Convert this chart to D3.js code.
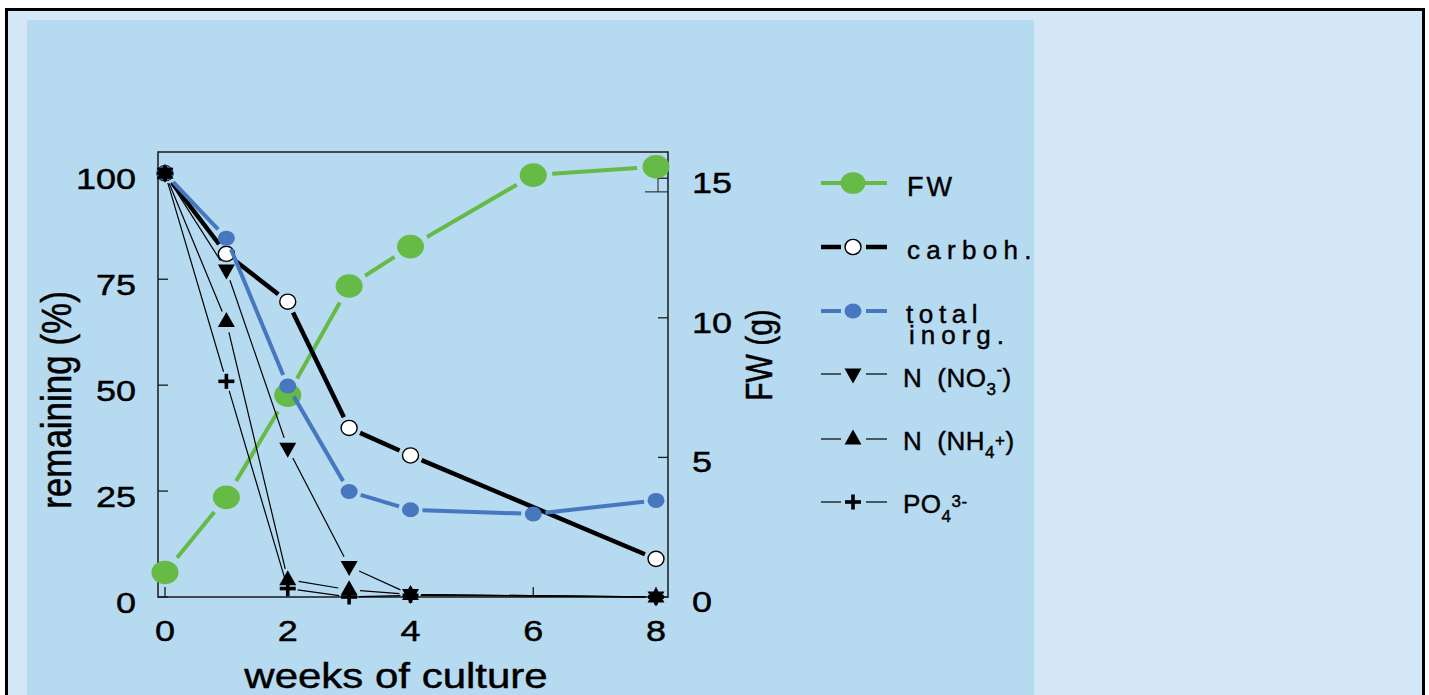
<!DOCTYPE html>
<html>
<head>
<meta charset="utf-8">
<script src="https://cdn.jsdelivr.net/npm/d3@7"></script>
<style>
  html, body { margin: 0; padding: 0; background: #fff; }
  svg { display: block; }
  text { font-family: "Liberation Sans", Arial, Helvetica, sans-serif; fill: #000; stroke: #000; stroke-width: 0.45px; }
</style>
</head>
<body>
<svg id="chart" width="1429" height="695"></svg>
<script>
// Data (weeks of culture)
var fwWeeks = [0, 1, 2, 3, 4, 6, 8];
var fwValues = [0.88, 3.57, 7.23, 11.14, 12.55, 15.11, 15.41];   // FW, g (right axis)
var fwErr = [0, 0, 0, 0, 0, 0, 0.9];
var carbWeeks = [0, 1, 2, 3, 4, 8];
var carbValues = [100, 81.0, 69.7, 39.9, 33.4, 9.0];            // % remaining
var inorgWeeks = [0, 1, 2, 3, 4, 6, 8];
var inorgValues = [100, 84.7, 49.8, 24.9, 20.6, 19.6, 22.8];
var no3Weeks = [0, 1, 2, 3, 4, 8];
var no3Values = [100, 77.2, 35.1, 7.2, 0.6, 0];
var nh4Weeks = [0, 1, 2, 3, 4, 8];
var nh4Values = [100, 65.0, 4.1, 1.7, 0.6, 0];
var po4Weeks = [0, 1, 2, 3, 4, 8];
var po4Values = [100, 50.9, 2.0, 0, 0.4, 0];

var xTicks = [0, 2, 4, 6, 8];
var leftTicks = [0, 25, 50, 75, 100];
var rightTicks = [0, 5, 10, 15];

var GREEN = "#66ba46",
    BLUE = "#4677bf",
    SX = 1.2;   // the original figure is stretched sideways

var svg = d3.select("#chart");

// frame and panels
svg.append("rect").attr("x", 6.5).attr("y", 9.5).attr("width", 1417).attr("height", 720)
    .attr("fill", "#d4e7f6").attr("stroke", "#000").attr("stroke-width", 3);
svg.append("rect").attr("x", 27).attr("y", 20).attr("width", 1007).attr("height", 700)
    .attr("fill", "#b6daf0");

var box = { left: 158, right: 668, top: 152, bottom: 597 };

var x = d3.scaleLinear().domain([0, 8]).range([165, 656]);
var yL = d3.scaleLinear().domain([0, 100]).range([597, 173.3]);
var yR = d3.scaleLinear().domain([0, 15]).range([597, 178.2]);

// stretched text helper
function stext(g, tx, ty, str, size, anchor, sx) {
    return g.append("text")
        .attr("transform", "translate(" + tx + "," + ty + ") scale(" + (sx || SX) + ",1)")
        .attr("text-anchor", anchor || "start")
        .style("font-size", size + "px")
        .text(str);
}

var g = svg.append("g");

// plot box
g.append("rect")
    .attr("x", box.left).attr("y", box.top)
    .attr("width", box.right - box.left).attr("height", box.bottom - box.top)
    .attr("fill", "none").attr("stroke", "#1a1a1a").attr("stroke-width", 1.5);

// inside ticks
g.selectAll(".tl").data(leftTicks).enter().append("line")
    .attr("x1", box.left).attr("x2", box.left + 10)
    .attr("y1", function(d) { return yL(d); }).attr("y2", function(d) { return yL(d); })
    .attr("stroke", "#1a1a1a").attr("stroke-width", 1.3);
g.selectAll(".tr").data(rightTicks).enter().append("line")
    .attr("x1", box.right - 10).attr("x2", box.right)
    .attr("y1", function(d) { return yR(d); }).attr("y2", function(d) { return yR(d); })
    .attr("stroke", "#1a1a1a").attr("stroke-width", 1.3);
g.selectAll(".tb").data(xTicks).enter().append("line")
    .attr("x1", function(d) { return x(d); }).attr("x2", function(d) { return x(d); })
    .attr("y1", box.bottom).attr("y2", box.bottom - 10)
    .attr("stroke", "#1a1a1a").attr("stroke-width", 1.3);

// tick labels
leftTicks.forEach(function(d) { stext(g, 136, yL(d) + 16, d, 30, "end"); });
rightTicks.forEach(function(d) { stext(g, 692, yR(d) + 15, d, 30, "start"); });
xTicks.forEach(function(d) { stext(g, x(d), 641, d, 30, "middle"); });

// axis titles
g.append("text")
    .attr("transform", "translate(71,400) scale(" + SX + ",1) rotate(-90)")
    .attr("text-anchor", "middle").style("font-size", "35px")
    .text("remaining (%)");
g.append("text")
    .attr("transform", "translate(772,355) scale(" + SX + ",1) rotate(-90)")
    .attr("text-anchor", "middle").style("font-size", "30px")
    .text("FW (g)");
stext(g, 396, 688, "weeks of culture", 35, "middle");

// markers
function marker(sel, type, size) {
    var s = size || 1;
    if (type === "big") {
        sel.append("ellipse").attr("rx", 13.5 * s).attr("ry", 11.8 * s).attr("fill", GREEN);
    } else if (type === "dot") {
        sel.append("ellipse").attr("rx", 8.5 * s).attr("ry", 7.5 * s).attr("fill", BLUE);
    } else if (type === "open") {
        sel.append("ellipse").attr("rx", 8 * s).attr("ry", 7.6 * s)
            .attr("fill", "#fff").attr("stroke", "#000").attr("stroke-width", 1.4);
    } else if (type === "down") {
        sel.append("path").attr("d", "M-8.5,-5.5L8.5,-5.5L0,9.5Z").attr("fill", "#000");
    } else if (type === "up") {
        sel.append("path").attr("d", "M-8.5,5.5L8.5,5.5L0,-9.5Z").attr("fill", "#000");
    } else if (type === "plus") {
        sel.append("rect").attr("x", -8).attr("y", -1.8).attr("width", 16).attr("height", 3.6).attr("fill", "#000");
        sel.append("rect").attr("x", -1.8).attr("y", -7.5).attr("width", 3.6).attr("height", 15).attr("fill", "#000");
    }
}

// line pieces with a gap round every marker
function pieces(wk, vals, ys, gap) {
    var pts = wk.map(function(w, i) { return [x(w), ys(vals[i])]; });
    var out = [];
    for (var i = 1; i < pts.length; i++) {
        var a = pts[i - 1], b = pts[i],
            dx = b[0] - a[0], dy = b[1] - a[1],
            len = Math.sqrt(dx * dx + dy * dy);
        if (len <= 2 * gap) continue;
        out.push([a[0] + dx / len * gap, a[1] + dy / len * gap, b[0] - dx / len * gap, b[1] - dy / len * gap]);
    }
    return out;
}

function series(wk, vals, ys, opts) {
    var sg = g.append("g");
    sg.selectAll("line").data(pieces(wk, vals, ys, opts.gap)).enter().append("line")
        .attr("x1", function(d) { return d[0]; }).attr("y1", function(d) { return d[1]; })
        .attr("x2", function(d) { return d[2]; }).attr("y2", function(d) { return d[3]; })
        .attr("stroke", opts.color).attr("stroke-width", opts.width);
    return sg;
}

function points(wk, vals, ys, type) {
    var pg = g.append("g");
    wk.forEach(function(w, i) {
        var m = pg.append("g").attr("transform", "translate(" + x(w) + "," + ys(vals[i]) + ")");
        marker(m, type);
    });
}

// FW
series(fwWeeks, fwValues, yR, { gap: 19, color: GREEN, width: 4 });
fwWeeks.forEach(function(w, i) {
    if (!fwErr[i]) return;
    var lo = yR(fwValues[i] - fwErr[i]);
    g.append("line").attr("x1", x(w) + 2).attr("x2", x(w) + 2).attr("y1", yR(fwValues[i])).attr("y2", lo)
        .attr("stroke", "#1a1a1a").attr("stroke-width", 1);
    g.append("line").attr("x1", x(w) - 11).attr("x2", box.right).attr("y1", lo).attr("y2", lo)
        .attr("stroke", "#1a1a1a").attr("stroke-width", 1);
});
points(fwWeeks, fwValues, yR, "big");

// carbohydrates
series(carbWeeks, carbValues, yL, { gap: 12, color: "#000", width: 4.5 });
points(carbWeeks, carbValues, yL, "open");

// total inorganic
series(inorgWeeks, inorgValues, yL, { gap: 12, color: BLUE, width: 4 });
points(inorgWeeks, inorgValues, yL, "dot");

// nutrients
series(no3Weeks, no3Values, yL, { gap: 11, color: "#000", width: 1.2 });
series(nh4Weeks, nh4Values, yL, { gap: 11, color: "#000", width: 1.2 });
series(po4Weeks, po4Values, yL, { gap: 10, color: "#000", width: 1.2 });
points(no3Weeks, no3Values, yL, "down");
points(nh4Weeks, nh4Values, yL, "up");
points(po4Weeks, po4Values, yL, "plus");

// legend
var legend = svg.append("g");
var legendRows = [
    { y: 183, type: "big", color: GREEN, width: 4, split: false },
    { y: 247, type: "open", color: "#000", width: 4.5, split: true },
    { y: 311, type: "dot", color: BLUE, width: 4, split: true },
    { y: 374, type: "down", color: "#000", width: 1.2, split: true },
    { y: 439, type: "up", color: "#000", width: 1.2, split: true },
    { y: 502, type: "plus", color: "#000", width: 1.2, split: true }
];
legendRows.forEach(function(r) {
    if (r.split) {
        legend.append("line").attr("x1", 821).attr("x2", 841).attr("y1", r.y).attr("y2", r.y)
            .attr("stroke", r.color).attr("stroke-width", r.width);
        legend.append("line").attr("x1", 866).attr("x2", 887).attr("y1", r.y).attr("y2", r.y)
            .attr("stroke", r.color).attr("stroke-width", r.width);
    } else {
        legend.append("line").attr("x1", 821).attr("x2", 887).attr("y1", r.y).attr("y2", r.y)
            .attr("stroke", r.color).attr("stroke-width", r.width);
    }
    marker(legend.append("g").attr("transform", "translate(853," + r.y + ")"), r.type, r.type === "big" ? 0.92 : 1);
});

stext(legend, 907, 196, "FW", 27, "start", 1).style("letter-spacing", "3px");
stext(legend, 907, 259, "carboh.", 26, "start", 1).style("letter-spacing", "6.3px");
stext(legend, 906, 323, "total", 26, "start", 1).style("letter-spacing", "5.6px");
stext(legend, 909, 344, "inorg.", 26, "start", 1).style("letter-spacing", "6px");

function chem(ty, parts) {
    var t = stext(legend, 903, ty, "", 26, "start", 1).style("letter-spacing", "0.5px");
    parts.forEach(function(p) {
        t.append("tspan").attr("dx", p[3] || 0).attr("dy", p[1]).style("font-size", p[2] + "px").text(p[0]);
    });
}
chem(387, [["N", 0, 26], ["(NO", 0, 26, 15], ["3", 8, 17], ["-", -20, 17], [")", 12, 26]]);
chem(450, [["N", 0, 26], ["(NH", 0, 26, 15], ["4", 8, 17], ["+", -12.5, 17], [")", 4.5, 26]]);
chem(513, [["PO", 0, 26], ["4", 8.5, 17], ["3-", -15, 17]]);
</script>
</body>
</html>
